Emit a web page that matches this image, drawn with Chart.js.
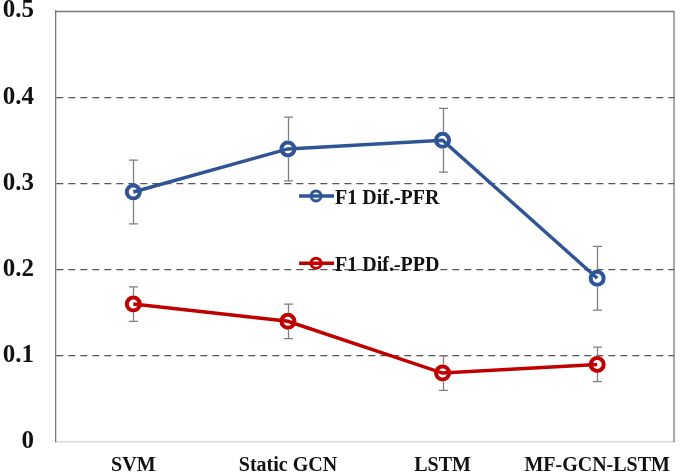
<!DOCTYPE html>
<html>
<head>
<meta charset="utf-8">
<script src="https://cdn.jsdelivr.net/npm/chart.js@4.4.1/dist/chart.umd.min.js"></script>
<style>
html,body{margin:0;padding:0;background:#fff;}
#wrap{width:685px;height:474px;position:relative;}
</style>
</head>
<body>
<div id="wrap"><canvas id="c" width="685" height="474"></canvas></div>
<script>
const categories = ['SVM', 'Static GCN', 'LSTM', 'MF-GCN-LSTM'];
const pfrValues = [0.29, 0.34, 0.35, 0.19];
const pfrErrors = [0.037, 0.037, 0.037, 0.037];
const ppdValues = [0.16, 0.14, 0.08, 0.09];
const ppdErrors = [0.02, 0.02, 0.02, 0.02];
const yTicks = [0, 0.1, 0.2, 0.3, 0.4, 0.5];
const seriesNames = ['F1 Dif.-PFR', 'F1 Dif.-PPD'];

const BLUE = '#2F5597';
const RED = '#C00000';
const SERIF = '"Liberation Serif", "Times New Roman", serif';

const errorBarPlugin = {
  id: 'errorBars',
  afterDatasetsDraw(chart) {
    const ctx = chart.ctx;
    const y = chart.scales.y;
    ctx.save();
    ctx.strokeStyle = '#808080';
    ctx.lineWidth = 1.3;
    chart.data.datasets.forEach((ds, di) => {
      const meta = chart.getDatasetMeta(di);
      meta.data.forEach((pt, i) => {
        const v = ds.data[i], e = ds.errors[i];
        const x = Math.round(pt.x) + 0.5;
        const yt = y.getPixelForValue(v + e);
        const yb = y.getPixelForValue(v - e);
        const r = 8.5;
        ctx.beginPath();
        ctx.moveTo(x, yt); ctx.lineTo(x, pt.y - r);
        ctx.moveTo(x, pt.y + r); ctx.lineTo(x, yb);
        ctx.moveTo(x - 4.5, yt); ctx.lineTo(x + 4.5, yt);
        ctx.moveTo(x - 4.5, yb); ctx.lineTo(x + 4.5, yb);
        ctx.stroke();
      });
    });
    ctx.restore();
  }
};

const framePlugin = {
  id: 'frame',
  afterDraw(chart) {
    const a = chart.chartArea;
    const ctx = chart.ctx;
    ctx.save();
    ctx.strokeStyle = '#7a7a7a';
    ctx.lineWidth = 1.3;
    ctx.beginPath();
    ctx.moveTo(a.left, a.top + 0.5);
    ctx.lineTo(a.right - 0.5, a.top + 0.5);
    ctx.lineTo(a.right - 0.5, a.bottom);
    ctx.stroke();
    ctx.restore();
  }
};

const legendPlugin = {
  id: 'insideLegend',
  afterDatasetsDraw(chart) {
    const a = chart.chartArea;
    const ctx = chart.ctx;
    const w = a.right - a.left, h = a.bottom - a.top;
    const x0 = a.left + w * 0.393;
    const rows = [a.top + h * 0.429, a.top + h * 0.585];
    ctx.save();
    chart.data.datasets.forEach((ds, i) => {
      const yy = rows[i];
      ctx.strokeStyle = ds.borderColor;
      ctx.lineWidth = 3.5;
      ctx.beginPath();
      ctx.moveTo(x0, yy); ctx.lineTo(x0 + 35, yy);
      ctx.stroke();
      ctx.lineWidth = 3;
      ctx.beginPath();
      ctx.arc(x0 + 17, yy, 5, 0, Math.PI * 2);
      ctx.stroke();
      ctx.fillStyle = '#111';
      ctx.font = 'bold 20px ' + SERIF;
      ctx.textBaseline = 'middle';
      ctx.textAlign = 'left';
      ctx.fillText(ds.label, x0 + 36, yy + 3);
    });
    ctx.restore();
  }
};

new Chart(document.getElementById('c'), {
  type: 'line',
  data: {
    labels: categories,
    datasets: [
      {
        label: seriesNames[0], data: pfrValues, errors: pfrErrors,
        borderColor: BLUE, borderWidth: 3.5, pointRadius: 6.5, pointBorderWidth: 4,
        pointBackgroundColor: 'rgba(0,0,0,0)', pointBorderColor: BLUE, tension: 0
      },
      {
        label: seriesNames[1], data: ppdValues, errors: ppdErrors,
        borderColor: RED, borderWidth: 3.5, pointRadius: 6.5, pointBorderWidth: 4,
        pointBackgroundColor: 'rgba(0,0,0,0)', pointBorderColor: RED, tension: 0
      }
    ]
  },
  options: {
    responsive: false,
    animation: false,
    devicePixelRatio: 1,
    layout: { padding: { top: 11, right: 3, left: 0, bottom: 0 } },
    plugins: { legend: { display: false }, tooltip: { enabled: false } },
    scales: {
      x: {
        type: 'category',
        offset: true,
        grid: { display: false, drawTicks: false },
        border: { display: true, color: '#d9d9d9', width: 1.3 },
        ticks: {
          color: '#111', padding: 12, maxRotation: 0, autoSkip: false,
          font: { family: SERIF, size: 20, weight: 'bold' }
        },
        afterFit(s) { s.height = 32; s.paddingLeft = 0; s.paddingRight = 0; }
      },
      y: {
        min: 0, max: 0.5,
        afterBuildTicks(s) { s.ticks = yTicks.map(v => ({ value: v })); },
        grid: {
          drawTicks: false,
          lineWidth: 1.3,
          color: c => {
            const v = c.tick ? c.tick.value : 0;
            if (v === 0) return '#d9d9d9';
            if (v >= 0.5) return 'rgba(0,0,0,0)';
            return '#555555';
          }
        },
        border: {
          display: true, color: '#7a7a7a', width: 1.3,
          dash: c => (c.tick && c.tick.value > 0 && c.tick.value < 0.5) ? [7, 5] : []
        },
        ticks: {
          color: '#111', padding: 22,
          font: { family: SERIF, size: 25, weight: 'bold' },
          callback: v => v === 0 ? '0' : Number(v).toFixed(1)
        },
        afterFit(s) { s.width = 56; s.paddingTop = 0; s.paddingBottom = 0; }
      }
    }
  },
  plugins: [errorBarPlugin, framePlugin, legendPlugin]
});
</script>
</body>
</html>
